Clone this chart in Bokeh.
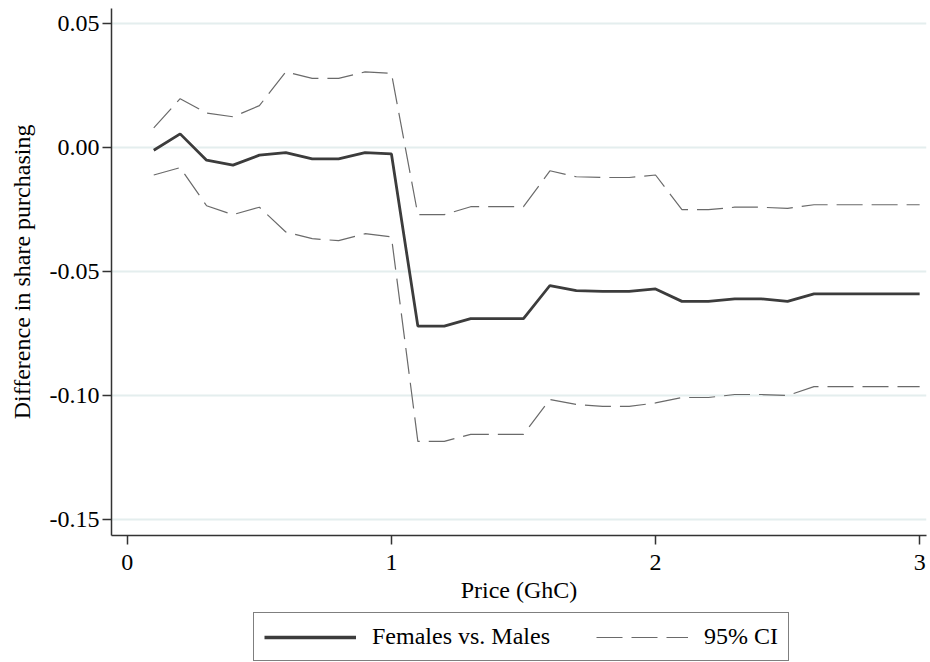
from bokeh.plotting import figure
from bokeh.layouts import column
from bokeh.models import Range1d, FixedTicker, Legend, LegendItem
from bokeh.embed import file_html
from bokeh.resources import INLINE

price = [0.1, 0.2, 0.3, 0.4, 0.5, 0.6, 0.7, 0.8, 0.9, 1.0,
         1.1, 1.2, 1.3, 1.4, 1.5, 1.6, 1.7, 1.8, 1.9, 2.0,
         2.1, 2.2, 2.3, 2.4, 2.5, 2.6, 2.7, 2.8, 2.9, 3.0]
diff = [-0.001, 0.0056, -0.005, -0.007, -0.003, -0.002, -0.0045, -0.0045, -0.002, -0.0025,
        -0.072, -0.072, -0.069, -0.069, -0.069, -0.0556, -0.0577, -0.058, -0.058, -0.057,
        -0.062, -0.062, -0.061, -0.061, -0.062, -0.059, -0.059, -0.059, -0.059, -0.059]
ci_upper = [0.008, 0.0198, 0.014, 0.0125, 0.017, 0.0306, 0.028, 0.028, 0.0306, 0.030,
            -0.027, -0.027, -0.0238, -0.0238, -0.0238, -0.0093, -0.0117, -0.012, -0.012, -0.011,
            -0.025, -0.025, -0.024, -0.024, -0.0245, -0.023, -0.023, -0.023, -0.023, -0.023]
ci_lower = [-0.011, -0.008, -0.0234, -0.027, -0.024, -0.034, -0.0367, -0.0375, -0.0347, -0.036,
            -0.1185, -0.1185, -0.1157, -0.1157, -0.1157, -0.1016, -0.1036, -0.1044, -0.1044, -0.103,
            -0.1008, -0.1008, -0.0996, -0.0996, -0.100, -0.0964, -0.0964, -0.0964, -0.0964, -0.0964]
x_ticks = [0, 1, 2, 3]
y_ticks = [-0.15, -0.10, -0.05, 0.00, 0.05]
y_tick_labels = ["-0.15", "-0.10", "-0.05", "0.00", "0.05"]
series_labels = ["Females vs. Males", "95% CI"]

FONT = "Liberation Serif"
MAIN_COLOR = "#3c3c3c"
CI_COLOR = "#6a6a6a"
CI_DASH = "26 9"
FS = "24px"

p = figure(frame_width=815, frame_height=527, output_backend="svg", toolbar_location=None,
           x_range=Range1d(-0.06, 3.026), y_range=Range1d(-0.1565, 0.0562),
           min_border_top=8, min_border_left=111, min_border_right=2, min_border_bottom=0)
p.outline_line_color = None
p.background_fill_color = "white"

p.xgrid.grid_line_color = None
p.ygrid.grid_line_color = "#e4eeee"
p.ygrid.grid_line_width = 2

p.line(price, diff, line_color=MAIN_COLOR, line_width=2.8)
p.line(price, ci_upper, line_color=CI_COLOR, line_width=1.2, line_dash=CI_DASH)
p.line(price, ci_lower, line_color=CI_COLOR, line_width=1.2, line_dash=CI_DASH)

for ax in (p.xaxis[0], p.yaxis[0]):
    ax.axis_line_color = "#333333"
    ax.axis_line_width = 1.5
    ax.major_tick_line_color = "#333333"
    ax.major_tick_line_width = 1.5
    ax.major_tick_out = 9
    ax.major_tick_in = 0
    ax.minor_tick_line_color = None
    ax.major_label_text_font = FONT
    ax.major_label_text_font_size = FS
    ax.major_label_text_color = "black"
    ax.axis_label_text_font = FONT
    ax.axis_label_text_font_size = FS
    ax.axis_label_text_font_style = "normal"
    ax.axis_label_text_color = "black"

p.xaxis.ticker = FixedTicker(ticks=x_ticks)
p.yaxis.ticker = FixedTicker(ticks=y_ticks)
p.yaxis.major_label_overrides = {t: l for t, l in zip(y_ticks, y_tick_labels)}
p.yaxis.major_label_orientation = "horizontal"
p.xaxis.axis_label = "Price (GhC)"
p.yaxis.axis_label = "Difference in share purchasing"
p.xaxis.major_label_standoff = 10
p.xaxis.axis_label_standoff = 4
p.yaxis.major_label_standoff = 3
p.yaxis.axis_label_standoff = 12

# legend strip below the chart
lg = figure(frame_width=815, frame_height=58, output_backend="svg", toolbar_location=None,
            x_range=Range1d(0, 1), y_range=Range1d(0, 1),
            min_border_top=0, min_border_left=111, min_border_right=2, min_border_bottom=0)
lg.axis.visible = False
lg.grid.visible = False
lg.outline_line_color = None
nan = float("nan")
k_main = lg.line([nan, nan], [nan, nan], line_color=MAIN_COLOR, line_width=3.5)
k_ci = lg.line([nan, nan], [nan, nan], line_color=CI_COLOR, line_width=1.2, line_dash=CI_DASH)

legend = Legend(items=[LegendItem(label=series_labels[0], renderers=[k_main]),
                       LegendItem(label=series_labels[1], renderers=[k_ci])],
                orientation="horizontal", location=(142, 2))
legend.label_text_font = FONT
legend.label_text_font_size = FS
legend.label_text_color = "black"
legend.glyph_width = 92
legend.glyph_height = 24
legend.label_standoff = 16
legend.spacing = 46
legend.padding = 10
legend.margin = 0
legend.border_line_color = "black"
legend.border_line_width = 1.3
legend.background_fill_alpha = 1
lg.add_layout(legend, "center")

layout = column(p, lg, spacing=0)
open("out.html", "w").write(file_html(layout, INLINE))
